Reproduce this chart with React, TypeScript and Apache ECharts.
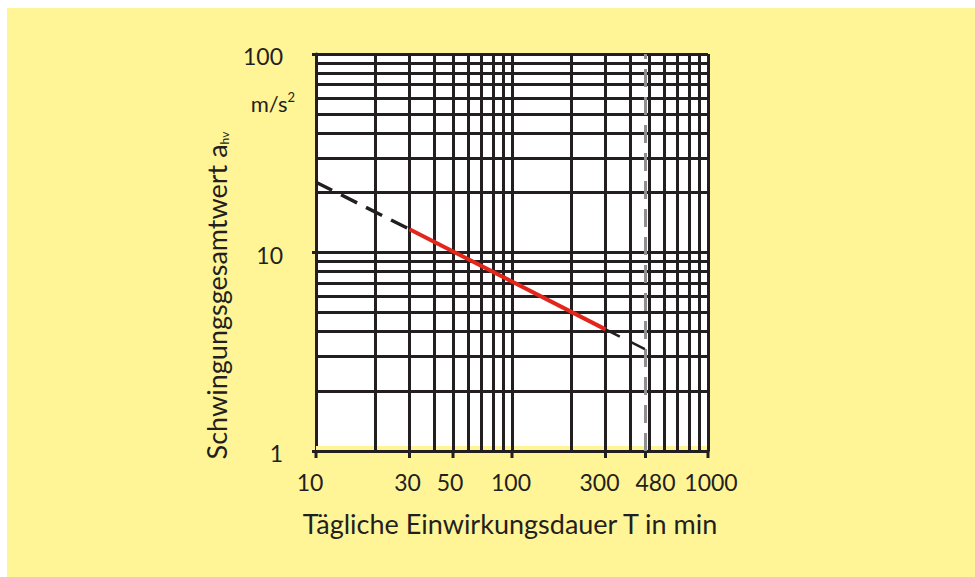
import React, { useEffect, useRef } from 'react';
import * as echarts from 'echarts';

// Grid lines (log-log paper)
const xGridValues = [20, 30, 40, 50, 60, 70, 80, 90, 100, 200, 300, 400, 500, 600, 700, 800, 900, 1000];
const yGridValues = [2, 3, 4, 5, 6, 7, 8, 9, 10, 20, 30, 40, 50, 60, 70, 80, 90, 100];
// Tick labels
const xTickLabels = [10, 30, 50, 100, 300, 480, 1000];
const yTickLabels = [1, 10, 100];
const limitT = 480;

// Curve segments (T in min, a_hv in m/s²)
const extrapStartT = [10, 30];
const extrapStartA = [22.6, 13.1];
const measuredT = [30, 300];
const measuredA = [13.1, 4.1];
const extrapEndT = [300, 480];
const extrapEndA = [4.1, 3.25];

const zip = (xs: number[], ys: number[]) => xs.map((x, i) => [x, ys[i]]);

// small horizontal nudges of the x tick labels (styling only)
const xLabelNudge: Record<number, number> = { 10: -6, 30: -2, 50: -3, 100: -1, 300: -6, 480: 10, 1000: 3 };

export default function App() {
  const ref = useRef<HTMLDivElement>(null);
  useEffect(() => {
    const el = ref.current!;
    const chart = echarts.init(el, null, { renderer: 'svg' });
    const ink = '#231f20';
    const yellow = '#fff597';
    const font = 'Lato, "Noto Sans", sans-serif';
    chart.setOption({
      animation: false,
      backgroundColor: yellow,
      grid: { left: 309, right: 267, top: 46, bottom: 126, show: true, backgroundColor: '#ffffff', borderWidth: 0 },
      xAxis: {
        type: 'log', logBase: 10, min: 10, max: 1000,
        axisLine: { show: true, onZero: false, lineStyle: { color: ink, width: 3 } },
        axisTick: { show: false }, axisLabel: { show: false }, splitLine: { show: false },
      },
      yAxis: {
        type: 'log', logBase: 10, min: 1, max: 100,
        axisLine: { show: true, onZero: false, lineStyle: { color: ink, width: 3 } },
        axisTick: { show: true, length: 4, lineStyle: { color: ink, width: 3 } },
        axisLabel: { show: false }, splitLine: { show: false },
      },
      series: [
        {
          type: 'line', data: [[10, 1]], showSymbol: false, symbol: 'none', silent: true,
          lineStyle: { width: 0 },
          markLine: {
            z: 1, silent: true, symbol: 'none', label: { show: false },
            lineStyle: { color: ink, width: 3, type: 'solid' },
            data: [
              ...xGridValues.map((v) => ({ xAxis: v })),
              ...yGridValues.map((v) => ({ yAxis: v })),
              { xAxis: limitT, lineStyle: { color: '#8f8f8f', width: 3, type: [18, 10] } },
            ],
          },
        },
        {
          type: 'line', z: 10, data: zip(extrapStartT, extrapStartA), symbol: 'none',
          lineStyle: { color: ink, width: 3.5, type: [18, 10] },
        },
        {
          type: 'line', z: 11, data: zip(measuredT, measuredA), symbol: 'none',
          lineStyle: { color: '#e3261c', width: 4 },
        },
        {
          type: 'line', z: 10, data: zip(extrapEndT, extrapEndA), symbol: 'none',
          lineStyle: { color: ink, width: 2.5, type: [16, 12] },
        },
      ],
    });

    const px = (x: number, y: number) => chart.convertToPixel({ gridIndex: 0 }, [x, y]) as number[];
    const [x0, yBottom] = px(10, 1);
    const [x1, yTop] = px(1000, 100);
    const elements: any[] = [];
    // thin yellow strip along the bottom of the plot
    elements.push({
      type: 'rect', z: 0.5, silent: true,
      shape: { x: x0, y: yBottom - 5, width: x1 - x0, height: 4 },
      style: { fill: yellow },
    });
    xTickLabels.forEach((v) => {
      const [x] = px(v, 1);
      elements.push({
        type: 'line', z: 5, silent: true,
        shape: { x1: x, y1: yBottom, x2: x, y2: yBottom + 7 },
        style: { stroke: ink, lineWidth: 3 },
      });
      elements.push({
        type: 'text', z: 10, x: x + (xLabelNudge[v] || 0), y: yBottom + 31,
        style: { text: String(v), fill: ink, font: `23px ${font}`, align: 'center', verticalAlign: 'middle' },
      });
    });
    yTickLabels.forEach((v) => {
      const [, y] = px(10, v);
      elements.push({
        type: 'text', z: 10, x: x0 - 33, y: y + 2,
        style: { text: String(v), fill: ink, font: `23px ${font}`, align: 'right', verticalAlign: 'middle' },
      });
    });
    elements.push({
      type: 'text', z: 10, x: x0 - 21, y: yTop + 49,
      style: {
        text: 'm/s{sup|2}', fill: ink, font: `22px ${font}`, align: 'right', verticalAlign: 'middle',
        rich: { sup: { fontSize: 13, fontFamily: font, fill: ink, verticalAlign: 'top', lineHeight: 26 } },
      },
    });
    elements.push({
      type: 'text', z: 10, x: (x0 + x1) / 2 - 2, y: yBottom + 72,
      style: { text: 'Tägliche Einwirkungsdauer T in min', fill: ink, font: `27px ${font}`, align: 'center', verticalAlign: 'middle' },
    });
    elements.push({
      type: 'text', z: 10, x: x0 - 102, y: (yTop + yBottom) / 2 + 43, rotation: Math.PI / 2,
      style: {
        text: '{b|Schwingungsgesamtwert a}{s|hv}', fill: ink, align: 'center', verticalAlign: 'middle',
        rich: {
          b: { fontSize: 27, fontFamily: font, fill: ink, lineHeight: 32, verticalAlign: 'bottom' },
          s: { fontSize: 12, fontFamily: font, fill: ink, lineHeight: 24, verticalAlign: 'bottom' },
        },
      },
    });
    chart.setOption({ graphic: { elements } });
    return () => chart.dispose();
  }, []);
  return (
    <div style={{ position: 'fixed', left: 0, top: 0, width: 975, height: 577, background: '#ffffff' }}>
      <div ref={ref} style={{ position: 'absolute', left: 7, top: 8, width: 968, height: 569 }} />
    </div>
  );
}
